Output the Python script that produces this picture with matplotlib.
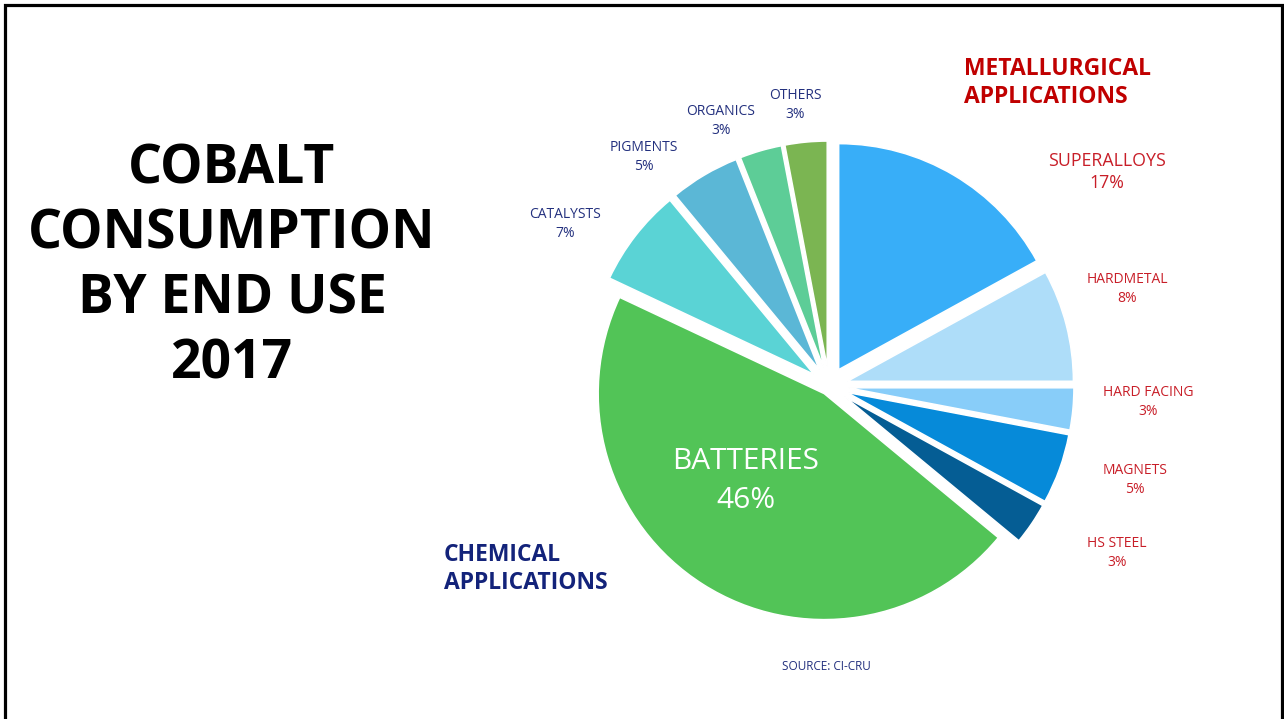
import matplotlib.pyplot as plt
from matplotlib.lines import Line2D

# cobalt end use, share of total (%) -- clockwise from 12 o'clock
uses = ['SUPERALLOYS', 'HARDMETAL', 'HARD FACING', 'MAGNETS', 'HS STEEL',
        'BATTERIES', 'CATALYSTS', 'PIGMENTS', 'ORGANICS', 'OTHERS']
shares = [17, 8, 3, 5, 3, 46, 7, 5, 3, 3]
metallurgical = ['SUPERALLOYS', 'HARDMETAL', 'HARD FACING', 'MAGNETS', 'HS STEEL']

colors = ['#38AEF8', '#AEDDF9', '#88CDF9', '#068AD9', '#055D94',
          '#52C457', '#5AD3D5', '#5BB7D6', '#5DCD97', '#7BB552']
explode = [19, 19, 19, 19, 19, 9, 19, 19, 19, 19]

W, H = 1284, 719
plt.rcParams['font.family'] = ['Open Sans', 'DejaVu Sans']

fig = plt.figure(figsize=(W / 100, H / 100), dpi=100)
ax = fig.add_axes([0, 0, 1, 1])

def Y(y):
    return H - y

ax.pie(shares, colors=colors, explode=explode, radius=226,
       center=(829, Y(386)), startangle=90, counterclock=False,
       wedgeprops=dict(edgecolor='white', linewidth=1.1), frame=True)
ax.set_xlim(0, W)
ax.set_ylim(0, H)
ax.set_aspect('equal')
ax.axis('off')

# label spots for each slice (x, y from top)
label_xy = [(1107, 172), (1127, 289), (1148, 402), (1135, 480), (1117, 553),
            (746, 481), (565, 224), (644, 157), (721, 121), (795, 105)]
navy = '#23307E'
red = '#C81E28'
for name, val, (lx, ly) in zip(uses, shares, label_xy):
    txt = '%s\n%d%%' % (name, val)
    if name == 'BATTERIES':
        ax.text(lx, Y(ly), txt, color='white', fontsize=21.5, ha='center',
                va='center', linespacing=1.45)
    elif name == 'SUPERALLOYS':
        ax.text(lx, Y(ly), txt, color=red, fontsize=12.8, ha='center',
                va='center', linespacing=1.35)
    elif name in metallurgical:
        ax.text(lx, Y(ly), txt, color=red, fontsize=10, ha='center',
                va='center', linespacing=1.35)
    else:
        ax.text(lx, Y(ly), txt, color=navy, fontsize=10, ha='center',
                va='center', linespacing=1.35)

ax.text(232, Y(267), 'COBALT\nCONSUMPTION\nBY END USE\n2017', fontsize=38.5,
        fontweight='bold', color='black', ha='center', va='center',
        linespacing=1.27)
ax.text(964, Y(83), 'METALLURGICAL\nAPPLICATIONS', fontsize=16.5,
        fontweight='bold', color='#C00000', ha='left', va='center',
        linespacing=1.27)
ax.text(444, Y(569), 'CHEMICAL\nAPPLICATIONS', fontsize=16.5,
        fontweight='bold', color='#13237A', ha='left', va='center',
        linespacing=1.27)
ax.text(826, Y(667), 'SOURCE: CI-CRU', fontsize=8.5, color=navy,
        ha='center', va='center')

# slide frame
ax.add_line(Line2D([4.5, 4.5, 1282, 1282], [0, Y(4.5), Y(4.5), 0],
                   color='black', linewidth=2.3, solid_joinstyle='miter'))

fig.savefig('out.png', dpi=100, facecolor='white')
